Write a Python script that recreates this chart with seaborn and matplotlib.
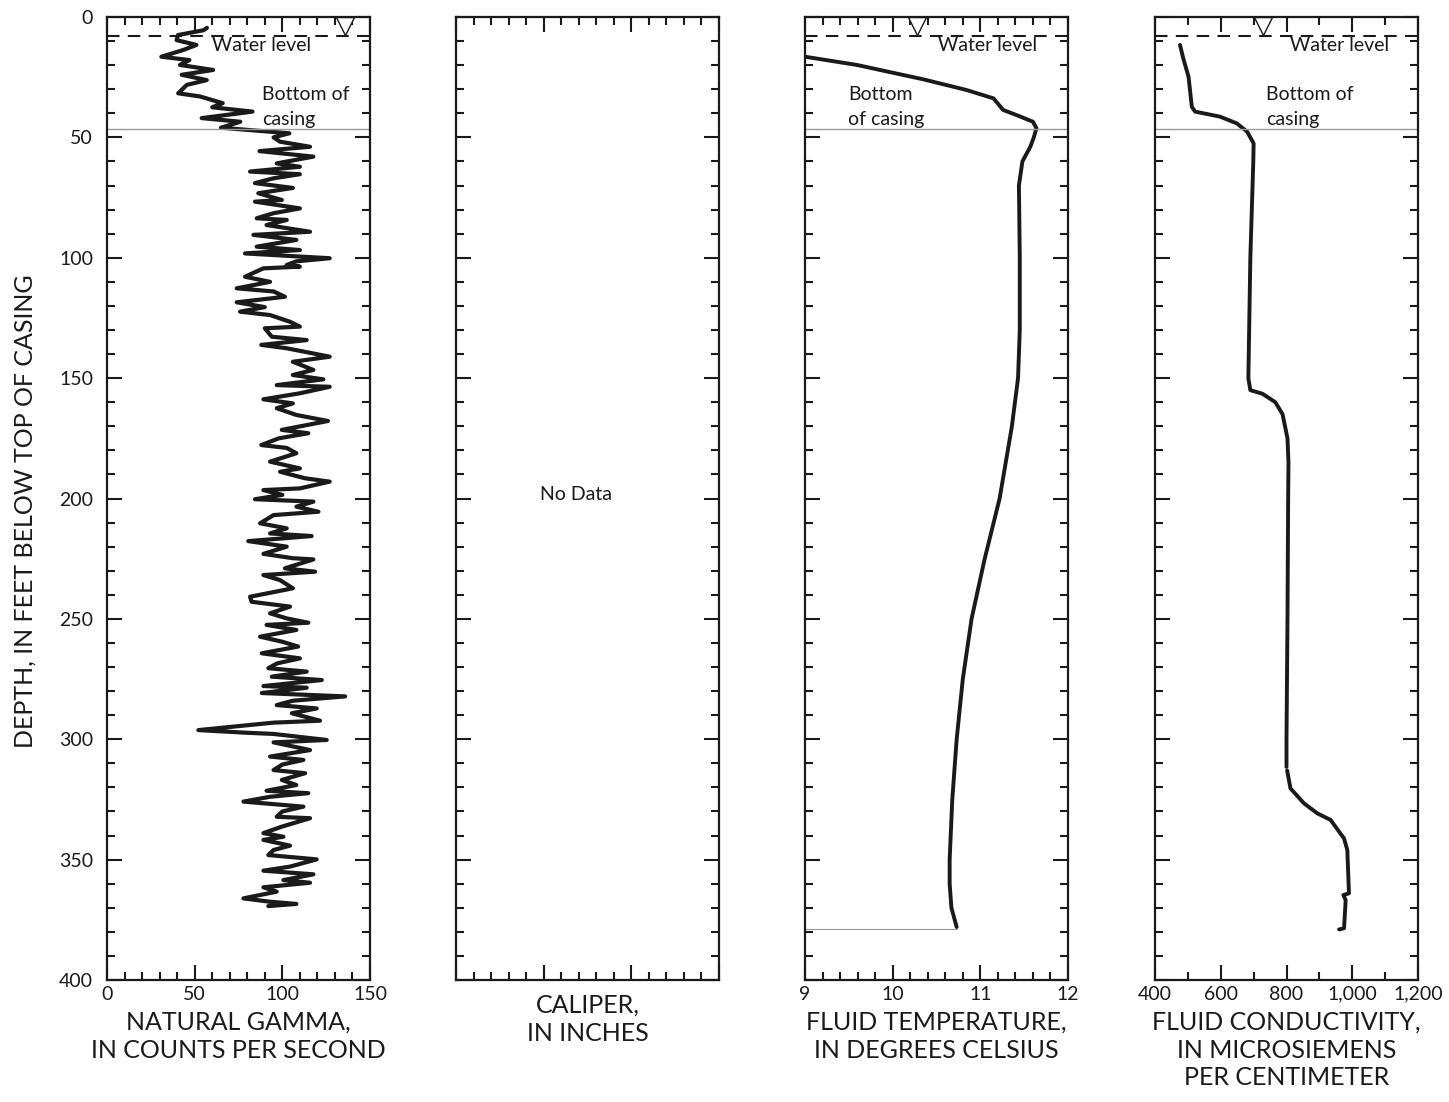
import matplotlib
matplotlib.use("Agg")
import matplotlib.pyplot as plt
import matplotlib.ticker as mticker
import seaborn as sns

# depth in feet below top of casing
gamma_depth = [4.5, 5.5, 7.5, 9.6, 11.6, 13.7, 16.5, 17.9, 19.9, 22, 24, 26.2, 28.2, 31.7, 33, 35.8,
               37.5, 39.3, 42, 43.5, 46, 48.3, 50, 51.8, 53.9, 55.7, 58, 60.8, 62.2, 64.2, 65.3, 67,
               69, 71, 73.2, 76, 76.7, 79.5, 81.5, 83.6, 84.3, 86.4, 89.2, 90.5, 92.6, 95.4, 96.8,
               98.2, 100.2, 101.5, 103, 103.7, 104.4, 107.9, 110, 112.7, 114, 116.2, 118.5, 120.5,
               122.4, 123.8, 126.6, 128.6, 129.3, 132.8, 134.2, 136.2, 137.6, 141.1, 143.2, 146.6,
               148.7, 150.5, 152.9, 153.6, 156.3, 158.8, 160.5, 162.5, 165.3, 167.8, 171.5, 172.9,
               175, 177.8, 179, 181.2, 184.7, 187.5, 188.9, 191.6, 193, 195.8, 196.5, 198.5, 200.3,
               201.3, 203.4, 205.5, 206.9, 210.3, 212.4, 214.5, 215.6, 217.7, 220, 223, 224.8, 225.3,
               229, 230.4, 231.8, 233.9, 237.3, 240.8, 242.9, 244.9, 247.7, 249.8, 251.6, 252.5,
               254.6, 257.4, 259.5, 261.5, 264.3, 266.4, 268.5, 270.5, 271.9, 274, 275.4, 277.9,
               278.6, 280.8, 282.2, 284, 285.8, 287.2, 289.2, 292.3, 293.1, 296.2, 297.3, 297.8,
               300.3, 301.3, 304.5, 307.2, 308.6, 310.5, 312.8, 314.1, 316.9, 319, 321.4, 322.4,
               323.9, 325.9, 328, 330, 332.2, 332.8, 336.3, 339, 340.5, 341.8, 344.2, 346, 348.1,
               349.9, 352.9, 354.6, 356.1, 358.5, 359.6, 361.5, 363.3, 366.1, 367.5, 368.4, 369.3]
gamma_cps = [57, 55, 40.5, 39.7, 51, 43.5, 31, 47, 41.6, 60.5, 42.6, 56.9, 45.5, 40.6, 53, 66,
             60, 83, 54, 76, 65, 104, 95, 98.7, 115.8, 87, 117.7, 96.8, 110, 81.6, 110, 95,
             84.4, 106, 86.3, 99.7, 84.4, 110, 95, 85.4, 102.5, 91, 115.8, 83.5, 108, 85.4, 110,
             78.7, 127, 108, 102.5, 110, 89.2, 78.7, 93, 74, 95, 101.5, 74, 90,
             75.9, 93, 104.4, 110, 90, 94, 113.9, 88, 102.5, 127, 106, 117.7,
             106, 123.4, 96.8, 127, 110, 89.2, 106, 96.8, 108, 126, 99.7, 114.8,
             98, 88, 102.5, 108, 93, 110, 98.7, 113, 127, 110, 89.2, 100, 84.4,
             117.7, 108, 120.6, 95, 87.3, 102.5, 93, 116.7, 80.6, 102.5, 89.2, 106, 117.7,
             101.5, 118.7, 89.2, 98.7, 106, 81.6, 82.5, 104.4, 93, 102.5, 114.8, 91,
             108, 87.3, 100, 109, 88.3, 110, 97, 92, 113.9, 94, 122.5, 89.2,
             113.9, 88.3, 135.8, 106, 96.8, 119.6, 105.4, 121.5, 95, 52.1, 79.7, 95,
             125.3, 95, 115.8, 93, 112, 100, 95, 113, 99.7, 108, 91, 114.8,
             93, 77.8, 112, 100, 96.8, 115.8, 99.7, 89.2, 100.6, 89.2, 104.4, 95, 92,
             119.6, 104.4, 89.2, 117.7, 100.6, 115.8, 89.2, 96.8, 77.8, 93, 108, 92]

temp_depth = [16.5, 19.9, 25.9, 30.3, 33.8, 38.6, 40.7, 43.5, 46.2, 50, 53.9, 60, 70, 100, 130,
              150, 170, 200, 225, 250, 275, 300, 325, 350, 360, 370, 378]
temp_c = [9.0, 9.59, 10.35, 10.84, 11.15, 11.26, 11.41, 11.6, 11.64, 11.61, 11.57, 11.48, 11.44,
          11.45, 11.45, 11.43, 11.36, 11.22, 11.05, 10.9, 10.8, 10.73, 10.68, 10.65, 10.65,
          10.67, 10.73]

# conductivity log has a short gap near 312 ft
cond_depth_upper = [11.6, 17.2, 24.8, 37.3, 39.3, 41.4, 44.2, 47.6, 52.5, 60, 100, 150, 155,
                    156.5, 160, 165, 175, 185, 200, 250, 300, 311.5]
cond_upper = [476, 486, 502, 512, 522, 598, 649, 680, 700, 699, 690, 684, 690,
              727, 766, 788, 803, 806, 805, 803, 800, 800]
cond_depth_lower = [313, 320.4, 326.6, 330.8, 333.5, 341.2, 346, 364, 364.7, 366.8, 378.5, 379]
cond_lower = [802, 812, 853, 894, 934, 975, 985, 990, 973, 980, 975, 960]

water_level_ft = 8
casing_bottom_ft = 46.5
temp_log_bottom_ft = 379

sns.set_style("ticks")
plt.rcParams["font.family"] = ["Lato", "DejaVu Sans"]

fig = plt.figure(figsize=(14.49, 11.02), dpi=100)
ink = "#1a1a1a"
lefts = [107, 456, 805, 1155]
axes = [fig.add_axes([l / 1449, 1 - 980 / 1102, 263 / 1449, 963 / 1102]) for l in lefts]


def style_axis(ax, xlim, xmajor, xminor, xlabel, show_xlabels=True):
    ax.set_xlim(*xlim)
    ax.set_ylim(400, 0)
    ax.xaxis.set_major_locator(mticker.MultipleLocator(xmajor))
    ax.xaxis.set_minor_locator(mticker.MultipleLocator(xminor))
    ax.yaxis.set_major_locator(mticker.MultipleLocator(50))
    ax.yaxis.set_minor_locator(mticker.MultipleLocator(10))
    ax.tick_params(which="both", direction="in", top=True, right=True, width=1.5,
                   color=ink, labelsize=14, labelcolor=ink, pad=4)
    ax.tick_params(axis="y", pad=10)
    ax.tick_params(which="major", length=11)
    ax.tick_params(which="minor", length=6)
    ax.tick_params(axis="y", labelleft=False)
    if not show_xlabels:
        ax.tick_params(axis="x", labelbottom=False)
    for s in ax.spines.values():
        s.set_linewidth(1.6)
        s.set_color(ink)
    ax.set_xlabel(xlabel, fontsize=18, color=ink, labelpad=6, linespacing=1.25)
    ax.set_ylabel("")


def water_and_casing(ax, tri_x, wl_x, cas_x, cas_text):
    ax.axhline(water_level_ft, color=ink, lw=1.5, ls=(0, (6, 4)))
    ax.axhline(casing_bottom_ft, color="#999999", lw=1)
    ax.plot([tri_x], [3.7], marker="v", ms=13, mfc="white", mec=ink, mew=1, clip_on=False)
    ax.text(wl_x, 11.8, "Water level", fontsize=14, color=ink, va="center", ha="left")
    ax.text(cas_x, 37.5, cas_text, fontsize=14, color=ink, va="center", ha="left", linespacing=1.55)


# natural gamma
ax = axes[0]
sns.lineplot(x=gamma_cps, y=gamma_depth, sort=False, estimator=None, color=ink, lw=3, ax=ax)
water_and_casing(ax, 135.8, 60, 88.4, "Bottom of\ncasing")
style_axis(ax, (0, 150), 50, 10, "NATURAL GAMMA,\nIN COUNTS PER SECOND")
ax.tick_params(axis="y", labelleft=True)

# caliper (no data)
ax = axes[1]
style_axis(ax, (0, 15), 5, 1, "CALIPER,\nIN INCHES", show_xlabels=False)
ax.text(6.84, 198.5, "No Data", fontsize=14, color=ink, ha="center", va="center")

# fluid temperature
ax = axes[2]
sns.lineplot(x=temp_c, y=temp_depth, sort=False, estimator=None, color=ink, lw=2.8, ax=ax)
ax.plot([9, temp_c[-1]], [temp_log_bottom_ft, temp_log_bottom_ft], color="#999999", lw=0.8)
water_and_casing(ax, 10.28, 10.52, 9.49, "Bottom\nof casing")
style_axis(ax, (9, 12), 1, 0.2, "FLUID TEMPERATURE,\nIN DEGREES CELSIUS")

# fluid conductivity
ax = axes[3]
sns.lineplot(x=cond_upper, y=cond_depth_upper, sort=False, estimator=None, color=ink, lw=2.8, ax=ax)
sns.lineplot(x=cond_lower, y=cond_depth_lower, sort=False, estimator=None, color=ink, lw=2.8, ax=ax)
water_and_casing(ax, 730, 812, 739, "Bottom of\ncasing")
style_axis(ax, (400, 1200), 200, 100, "FLUID CONDUCTIVITY,\nIN MICROSIEMENS\nPER CENTIMETER")
ax.xaxis.set_major_formatter(mticker.FuncFormatter(lambda v, p: f"{int(v):,}"))

fig.text(0.017, 0.536, "DEPTH, IN FEET BELOW TOP OF CASING", rotation=90, fontsize=18,
         color=ink, ha="center", va="center")

fig.savefig("out.png", dpi=100)
